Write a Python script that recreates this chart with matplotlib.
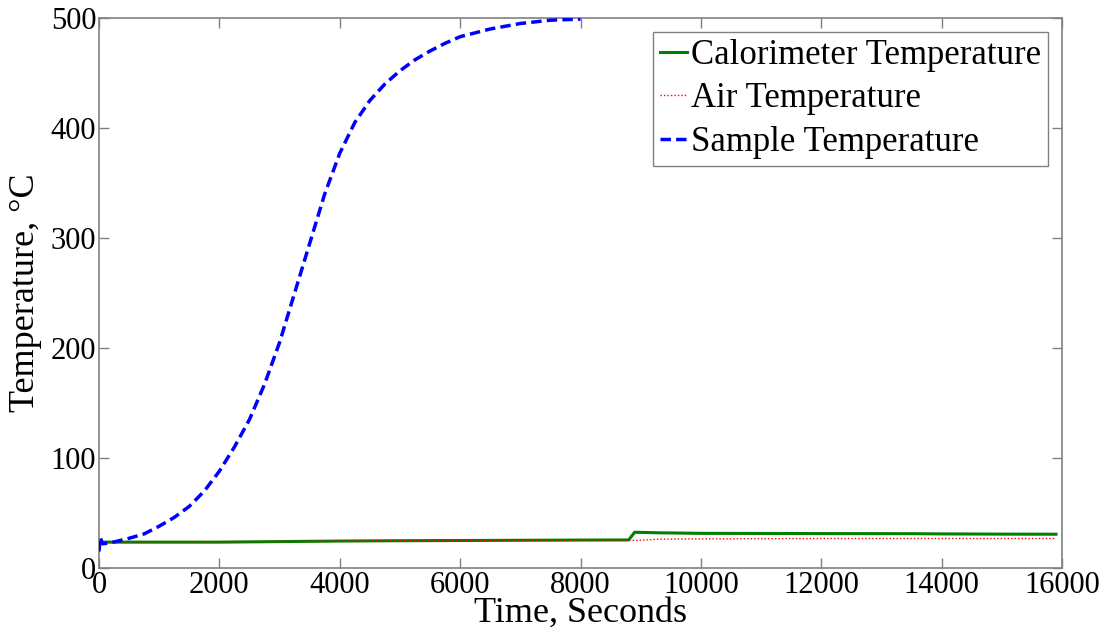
import matplotlib
matplotlib.use("Agg")
import matplotlib.pyplot as plt

# Sample temperature
sample_t = [0, 20, 60, 200, 500, 750, 1000, 1250, 1500, 1750, 2000, 2250, 2500, 2750, 3000,
            3250, 3500, 3750, 4000, 4250, 4500, 4750, 5000, 5250, 5500, 5750, 6000, 6500,
            7000, 7500, 8000]
sample_T = [15, 28, 22, 23, 27, 31, 38, 46, 56, 70, 88, 110, 135, 167, 205,
            250, 295, 340, 377, 405, 425, 440, 452, 462, 470, 477, 483, 490,
            495, 498, 499]

# Calorimeter temperature
cal_t = [0, 30, 1000, 2000, 3000, 4000, 5000, 6000, 7000, 8000, 8800, 8900, 9300, 10000,
         12000, 13500, 14000, 15000, 15900]
cal_T = [22, 23.5, 23.5, 23.5, 24, 24.5, 24.8, 25, 25.2, 25.4, 25.5, 32.5, 32, 31.5,
         31.3, 31.2, 31, 30.8, 30.7]

# Air temperature
air_t = [0, 30, 1000, 2000, 3000, 4000, 5000, 6000, 7000, 8000, 8800, 8900, 9300, 10000,
         12000, 14000, 15900]
air_T = [22, 24, 24, 24, 24.2, 24.5, 24.8, 25, 25.2, 25.4, 25.5, 25, 26.2, 26.5,
         26.8, 26.8, 26.8]

xticks = [0, 2000, 4000, 6000, 8000, 10000, 12000, 14000, 16000]
yticks = [0, 100, 200, 300, 400, 500]

plt.rcParams['font.family'] = ['Liberation Serif', 'DejaVu Serif']

fig = plt.figure(figsize=(11.11, 6.37), dpi=100)
ax = fig.add_axes([99/1111, 1 - 568/637, (1062 - 99)/1111, (568 - 18)/637])

ax.plot(cal_t, cal_T, color='#008000', lw=2.2, label='Calorimeter Temperature', zorder=2)
ax.plot(air_t, air_T, color='#ff0000', lw=1.0, ls=(0, (1, 1.5)), label='Air Temperature', zorder=3)
ax.plot(sample_t, sample_T, color='#0000ff', lw=2.5, ls=(0, (3, 1.5)), label='Sample Temperature', zorder=4)

ax.set_xlim(0, 16000)
ax.set_ylim(0, 500)
ax.set_xticks(xticks)
ax.set_yticks(yticks)
ax.tick_params(direction='in', top=True, right=True, length=7, width=1,
               color='#808080', labelsize=22, pad=2)
for s in ax.spines.values():
    s.set_color('#808080')
    s.set_linewidth(1.2)

ax.set_xlabel('Time, Seconds', fontsize=26, labelpad=-2)
ax.set_ylabel('Temperature, \u00b0C', fontsize=26, labelpad=6)

leg = ax.legend(loc='upper right', bbox_to_anchor=(1048/1111, 1 - 32/637),
                bbox_transform=fig.transFigure, fontsize=25, handlelength=0.8,
                handletextpad=0.1, borderpad=0.2, labelspacing=0.3, borderaxespad=0,
                fancybox=False, framealpha=1)
leg.get_frame().set_edgecolor('#808080')
leg.get_frame().set_linewidth(1.0)

fig.savefig('out.png', dpi=100)
